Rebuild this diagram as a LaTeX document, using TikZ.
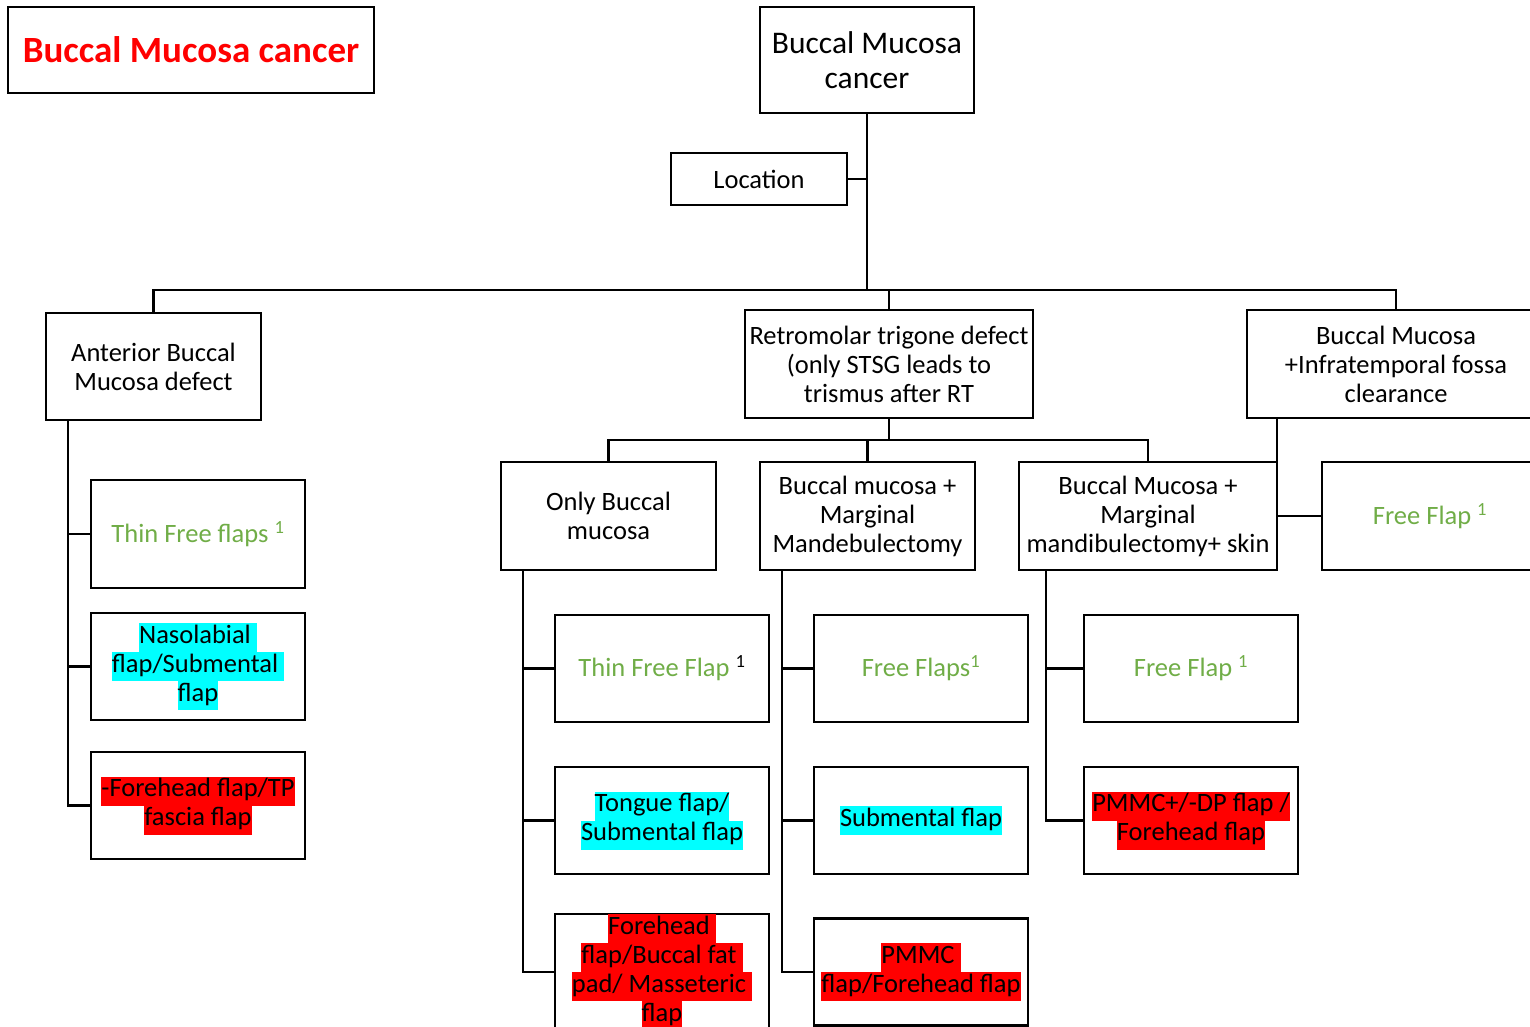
\documentclass[tikz,border=0pt]{standalone}
\usepackage{fontspec}
\setmainfont{Carlito}
\usepackage{xcolor}
\definecolor{fgreen}{HTML}{70AD47}
\definecolor{hlcyan}{HTML}{00FFFF}
\definecolor{hlred}{HTML}{FF0000}
\newcommand\hlc[2]{{\setlength\fboxsep{0pt}\colorbox{#1}{\strut #2}}}
\begin{document}
\begin{tikzpicture}[x=1pt,y=-1pt,
  box/.style={draw, line width=2.6pt, inner sep=0pt, outer sep=0pt, align=center,
    font=\fontsize{26.5}{29}\selectfont},
  link/.style={line width=2.6pt}]
\useasboundingbox (0,0) rectangle (1530,1026);
\begin{scope}
\clip (0,0) rectangle (1530,1026);
% title
\node[box, minimum width=366, minimum height=86, text=red,
  font=\fontsize{37}{42}\selectfont\bfseries] (title) at (191,50) {Buccal Mucosa cancer};
% root
\node[box, minimum width=214, minimum height=106, font=\fontsize{31.5}{35}\selectfont] (root) at (867,60) {Buccal Mucosa\\cancer};
\node[box, minimum width=176, minimum height=52] (loc) at (759,179) {Location};
% level 1
\node[box, minimum width=215, minimum height=107] (ant) at (153.5,366.5) {Anterior Buccal\\Mucosa defect};
\node[box, minimum width=288, minimum height=108] (retro) at (889,364) {Retromolar trigone defect\\(only STSG leads to\\trismus after RT};
\node[box, minimum width=298, minimum height=108] (infra) at (1396,364) {Buccal Mucosa\\+Infratemporal fossa\\clearance};
% anterior children
\node[box, minimum width=214, minimum height=108, text=fgreen] (a1) at (198,534) {Thin Free flaps \textsuperscript{1}};
\node[box, minimum width=214, minimum height=107] (a2) at (198,666.5) {\hlc{hlcyan}{Nasolabial }\\\hlc{hlcyan}{flap/Submental }\\\hlc{hlcyan}{flap}};
\node[box, minimum width=214, minimum height=107] (a3) at (198,805.5) {\hlc{hlred}{-Forehead flap/TP}\\\hlc{hlred}{fascia flap}};
% retromolar children
\node[box, minimum width=215, minimum height=108] (ob) at (608.5,516) {Only Buccal\\mucosa};
\node[box, minimum width=215, minimum height=108] (mm) at (867.5,516) {Buccal mucosa +\\Marginal\\Mandebulectomy};
\node[box, minimum width=258, minimum height=108] (ms) at (1148,516) {Buccal Mucosa +\\Marginal\\mandibulectomy+ skin};
\node[box, minimum width=216, minimum height=108, text=fgreen] (ff) at (1430,516) {Free Flap \textsuperscript{1}};
% only buccal children
\node[box, minimum width=214, minimum height=107] (o1) at (662,668.5) {\textcolor{fgreen}{Thin Free Flap} \textsuperscript{1}};
\node[box, minimum width=214, minimum height=107] (o2) at (662,820.5) {\hlc{hlcyan}{Tongue flap/}\\\hlc{hlcyan}{Submental flap}};
\node[box, minimum width=214, minimum height=107] (o3) at (662,972) {\hlc{hlred}{Forehead }\\\hlc{hlred}{flap/Buccal fat }\\\hlc{hlred}{pad/ Masseteric }\\\hlc{hlred}{flap}};
% marginal children
\node[box, minimum width=214, minimum height=107, text=fgreen] (m1) at (921,668.5) {Free Flaps\textsuperscript{1}};
\node[box, minimum width=214, minimum height=107] (m2) at (921,820.5) {\hlc{hlcyan}{Submental flap}};
\node[box, minimum width=214, minimum height=107] (m3) at (921,972) {\hlc{hlred}{PMMC }\\\hlc{hlred}{flap/Forehead flap}};
% skin children
\node[box, minimum width=214, minimum height=107, text=fgreen] (s1) at (1191,668.5) {Free Flap \textsuperscript{1}};
\node[box, minimum width=214, minimum height=107] (s2) at (1191,820.5) {\hlc{hlred}{PMMC+/-DP flap /}\\\hlc{hlred}{Forehead flap}};
% trunk coordinates
\coordinate (busA) at (867,290);
\coordinate (busB) at (889,440);
\coordinate (tA) at (68,420);
\coordinate (tO) at (523,570);
\coordinate (tM) at (782,570);
\coordinate (tS) at (1046,570);
% connectors
\draw[link] (root.south) -- (busA);
\draw[link] (loc.east) -- (loc.east -| root.south);
\draw[link] (ant.north) |- (busA -| infra.north) -- (infra.north);
\draw[link] (retro.north) -- (retro.north |- busA);
\draw[link] (retro.south) -- (busB);
\draw[link] (ob.north) |- (busB -| ms.north) -- (ms.north);
\draw[link] (mm.north) -- (mm.north |- busB);
\draw[link] (ms.east |- infra.south) |- (ff.west);
\draw[link] (tA) |- (a3.west);
\draw[link] (a1.west) -- (a1.west -| tA);
\draw[link] (a2.west) -- (a2.west -| tA);
\draw[link] (tO) |- (o3.west);
\draw[link] (o1.west) -- (o1.west -| tO);
\draw[link] (o2.west) -- (o2.west -| tO);
\draw[link] (tM) |- (m3.west);
\draw[link] (m1.west) -- (m1.west -| tM);
\draw[link] (m2.west) -- (m2.west -| tM);
\draw[link] (tS) |- (s2.west);
\draw[link] (s1.west) -- (s1.west -| tS);
\end{scope}
\end{tikzpicture}
\end{document}
